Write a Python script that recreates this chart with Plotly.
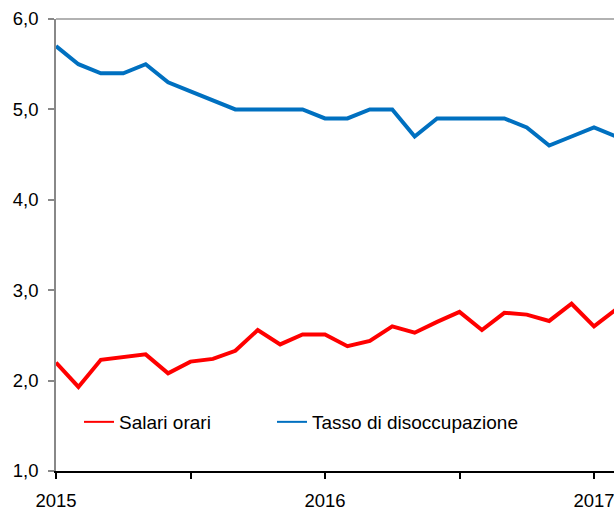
import plotly.graph_objects as go

months = [2015 + i / 12 for i in range(26)]
salari_orari = [2.20, 1.93, 2.23, 2.26, 2.29, 2.08, 2.21, 2.24, 2.33, 2.56, 2.40, 2.51,
                2.51, 2.38, 2.44, 2.60, 2.53, 2.65, 2.76, 2.56, 2.75, 2.73, 2.66, 2.85,
                2.60, 2.79]
disoccupazione = [5.7, 5.5, 5.4, 5.4, 5.5, 5.3, 5.2, 5.1, 5.0, 5.0, 5.0, 5.0,
                  4.9, 4.9, 5.0, 5.0, 4.7, 4.9, 4.9, 4.9, 4.9, 4.8, 4.6, 4.7,
                  4.8, 4.7]
tick_vals = [2015, 2015.5, 2016, 2016.5, 2017]
tick_text = ["2015", "", "2016", "", "2017"]

RED = "#FF0000"
BLUE = "#0070C0"
FONT = "Liberation Sans, Arial, sans-serif"
FS = 18.5
FS_LEG = 19

W, H = 614, 508
PL, PR, PT, PB = 56, 614, 19, 471  # plot area in px
PW, PH = PR - PL, PB - PT

fig = go.Figure()
fig.add_trace(go.Scatter(x=months, y=salari_orari, mode="lines",
                         line=dict(color=RED, width=4), showlegend=False,
                         name="Salari orari"))
fig.add_trace(go.Scatter(x=months, y=disoccupazione, mode="lines",
                         line=dict(color=BLUE, width=4), showlegend=False,
                         name="Tasso di disoccupazione"))
# legend entries (thinner lines as in reference)
fig.add_trace(go.Scatter(x=[None], y=[None], mode="lines",
                         line=dict(color=RED, width=2), name="Salari orari",
                         legend="legend"))
fig.add_trace(go.Scatter(x=[None], y=[None], mode="lines",
                         line=dict(color=BLUE, width=2), name="Tasso di disoccupazione",
                         legend="legend2"))

leg_common = dict(orientation="h", xanchor="left", yanchor="middle",
                  bgcolor="rgba(0,0,0,0)", font=dict(family=FONT, size=FS_LEG))

fig.update_layout(
    width=W, height=H,
    margin=dict(l=PL, r=W - PR, t=PT, b=H - PB, autoexpand=False),
    plot_bgcolor="white", paper_bgcolor="white",
    separators=",.",
    font=dict(family=FONT, size=FS, color="#000000"),
    showlegend=True,
    legend=dict(x=(79 - PL) / PW, y=(PB - 422) / PH, **leg_common),
    legend2=dict(x=(272 - PL) / PW, y=(PB - 422) / PH, **leg_common),
    xaxis=dict(range=[2015, 2015 + PW / 269], tickvals=tick_vals,
               ticktext=tick_text, showgrid=False, zeroline=False,
               showline=True, linecolor="#000000", linewidth=1.5,
               ticks="outside", ticklen=6, tickcolor="#000000", tickwidth=1.5,
               ticklabelstandoff=6, automargin=False, ticklabeloverflow="allow"),
    yaxis=dict(range=[1, 6], dtick=1, tickformat=".1f", showgrid=False,
               zeroline=False, showline=True, linecolor="#888888", linewidth=1.5,
               ticks="outside", ticklen=6, tickcolor="#888888", tickwidth=1.5,
               ticklabelstandoff=6, automargin=False),
    shapes=[dict(type="line", xref="paper", yref="paper", x0=0, x1=1, y0=1, y1=1,
                 line=dict(color="#999999", width=1.5))],
)

fig.write_html(
    "out.html",
    config={"displayModeBar": False},
    post_script=("document.body.style.margin='0';"
                 "document.body.style.overflow='hidden';"
                 "document.documentElement.style.overflow='hidden';"),
)
